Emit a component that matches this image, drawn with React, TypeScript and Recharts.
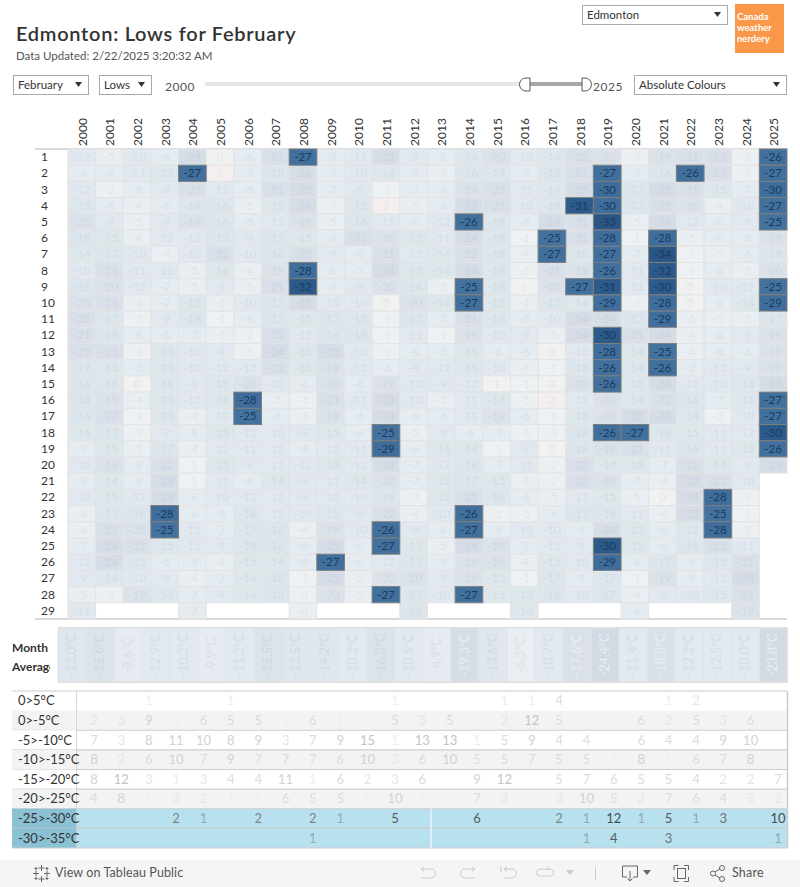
import React from "react";
import {
  ScatterChart,
  Scatter,
  XAxis,
  YAxis,
  ReferenceLine,
  ReferenceArea,
} from "recharts";

const years = [2000, 2001, 2002, 2003, 2004, 2005, 2006, 2007, 2008, 2009, 2010, 2011, 2012, 2013, 2014, 2015, 2016, 2017, 2018, 2019, 2020, 2021, 2022, 2023, 2024, 2025];
const days = [1, 2, 3, 4, 5, 6, 7, 8, 9, 10, 11, 12, 13, 14, 15, 16, 17, 18, 19, 20, 21, 22, 23, 24, 25, 26, 27, 28, 29];

// daily lows per year, day 1 first. -24.6 and -29.6 print as -25 and -30 but sit in the warmer bin
const lows2000 = [-12, -6, -12, -15, -20, -18, -14, -10, -16, -20, -22, -21, -22, -17, -16, -18, -16, -14, -7, -10, -8, -10, -4, -4, -7, -12, -9, -5, -11];
const lows2001 = [-5, -6, -2, -8, -9, -15, -17, -21, -20, -21, -17, -18, -21, -15, -18, -19, -22, -17, -15, -19, -14, -15, -17, -21, -24, -24, -14, -3];
const lows2002 = [-10, -11, -8, -4, -5, -4, -10, -11, -12, -4, -3, -6, -3, -7, 0, -4, -1, -3, -5, -8, -8, -12, -18, -20, -22, -15, -10, -19];
const lows2003 = [-6, -13, -9, -6, -9, -12, -4, -11, -7, -7, -9, -6, -13, -13, -14, -13, -13, -9, -17, -22, -23, -23, -28, -25, -15, -8, -9, -14];
const lows2004 = [-24, -27, -22, -16, -19, -12, -10, -5, -5, -15, -18, -7, -10, -10, -9, -11, -4, -8, -4, -1, -1, -6, -6, -11, -11, -8, -4, -7, -7];
const lows2005 = [0, 2, -11, -16, -16, -17, -22, -14, -9, -5, -1, -5, -9, -12, -13, -14, -10, -13, -12, -15, -11, -10, -8, -7, -9, -4, -7, -9];
const lows2006 = [-6, -7, -8, -5, -8, -9, -10, -4, -5, -10, -6, -2, -3, -12, -20, -28, -25, -12, -11, -9, -6, -12, -16, -17, -18, -15, -14, -14];
const lows2007 = [-21, -18, -21, -15, -12, -17, -16, -19, -21, -17, -17, -22, -24, -22, -10, -5, -6, -10, -12, -11, -14, -12, -12, -16, -16, -14, -18, -18];
const lows2008 = [-27, -24, -23, -24, -19, -15, -22, -28, -32, -24.6, -15, -12, -13, -13, -6, -3, -5, -9, -8, -12, -9, -9, -10, -4, -8, -8, -1, -3, -4];
const lows2009 = [-8, -7, -7, -3, -5, -8, -9, -6, -8, -10, -17, -16, -23, -19, -20, -21, -19, -15, -12, -13, -11, -10, -15, -19, -24.6, -27, -24.6, -20];
const lows2010 = [-11, -10, -9, -13, -16, -21, -8, -7, -9, -10, -13, -18, -10, -12, -8, -11, -6, -6, -11, -12, -14, -10, -9, -10, -6, -6, -5, -5];
const lows2011 = [-24.6, -14, -1, 2, -11, -20, -21, -24, -20, 0, -1, -1, -2, -6, -19, -23, -24, -25, -29, -23, -20, -18, -22, -26, -27, -12, -20, -27];
const lows2012 = [-9, -8, -7, -5, -8, -13, -12, -13, -16, -20, -17, -11, -6, -9, -10, -10, -6, -5, -6, -7, -7, -3, -4, -9, -13, -17, -20, -17, -18];
const lows2013 = [-8, -5, -6, -6, -12, -11, -14, -14, -5, -14, -7, -1, -8, -12, -9, -5, -6, -9, -14, -12, -13, -13, -10, -6, -5, -8, -9, -10];
const lows2014 = [-14, -16, -19, -23, -26, -24, -22, -24, -25, -27, -21, -19, -15, -15, -12, -11, -11, -6, -14, -16, -17, -21, -26, -27, -24, -19, -19, -27];
const lows2015 = [-20, -17, -22, -21, -18, -18, -18, -18, -18, -15, -16, -10, -6, -10, 1, -14, -19, -7, -1, -7, -15, -16, -2, -8, -19, -19, -13, -15];
const lows2016 = [-10, -8, -11, -10, -8, -1, -4, -3, 1, -4, -8, -9, -8, -4, -1, -3, -6, -3, -9, -11, -4, -6, -3, -10, -7, -4, -1, -13, -14];
const lows2017 = [-14, -18, -14, -18, -24, -25, -27, -21, -20, -17, -10, -5, 0, -1, 0, 2, -1, -3, 0, -2, -2, -5, -6, -10, -12, -15, -17, -16];
const lows2018 = [-22, -21, -24.6, -31, -21, -21, -18, -19, -27, -14, -24, -24, -10, -18, -20, -11, -15, -18, -18, -22, -22, -11, -17, -8, -9, -10, -8, -10];
const lows2019 = [-20, -27, -29.6, -29.6, -33, -28, -27, -26, -31, -29, -24, -30, -28, -26, -26, -20, -20, -26, -19, -14, -20, -15, -18, -24, -30, -29, -17, -17];
const lows2020 = [-2, -7, -17, -17, -5, -1, -7, -11, -11, -3, -17, -21, -14, -14, -15, -14, -24.6, -27, -21, -13, -7, -5, -11, -13, -15, -6, -1, -4, -6];
const lows2021 = [-19, -16, -23, -22, -24, -28, -34, -32, -30, -28, -29, -24, -25, -26, -24, -22, -23, -18, -11, -7, -4, 0, -4, -6, -6, -17, -19, -9];
const lows2022 = [-21, -26, -21, -20, -12, -5, -1, -1, 0, 0, -5, -4, -4, -7, -12, -16, -14, -15, -16, -21, -23, -24, -23, -13, -16, -8, -8, -10];
const lows2023 = [-21, -21, -15, -4, -6, -6, -5, -6, -10, -6, -5, -6, -8, -12, -10, -7, -3, -11, -11, -14, -22, -28, -25, -28, -22, -15, -12, -15];
const lows2024 = [-3, -3, -7, -10, -9, -8, -6, -5, -12, -14, -5, -9, -6, -9, -13, -15, -10, -12, -13, -9, -10, -3, -1, -3, -11, -21, -24, -21, -19];
const lows2025 = [-26, -27, -29.6, -27, -25, -19, -18, -20, -25, -29, -17, -19, -19, -20, -23, -27, -27, -30, -26, -23];

const lowsByYear = [lows2000, lows2001, lows2002, lows2003, lows2004, lows2005, lows2006, lows2007, lows2008, lows2009, lows2010, lows2011, lows2012, lows2013, lows2014, lows2015, lows2016, lows2017, lows2018, lows2019, lows2020, lows2021, lows2022, lows2023, lows2024, lows2025];

const monthAverages = [-13.0, -15.6, -8.6, -12.9, -10.2, -9.9, -11.2, -15.5, -13.5, -14.2, -10.2, -16.3, -10.5, -8.9, -19.3, -13.6, -6.3, -10.7, -17.6, -24.4, -11.4, -18.8, -12.2, -12.5, -10.0, -23.8];

const bandLabels = ["0>5°C", "0>-5°C", "-5>-10°C", "-10>-15°C", "-15>-20°C", "-20>-25°C", "-25>-30°C", "-30>-35°C"];
const countsBand0 = [null, null, 1, null, null, 1, null, null, null, null, null, 1, null, null, null, 1, 1, 4, null, null, null, 1, 2, null, null, null];
const countsBand1 = [2, 3, 9, 1, 6, 5, 5, 1, 6, 1, null, 5, 3, 5, null, 2, 12, 5, null, null, 6, 2, 5, 3, 6, null];
const countsBand2 = [7, 3, 8, 11, 10, 8, 9, 3, 7, 9, 15, 1, 13, 13, 1, 5, 9, 4, 4, null, 6, 4, 4, 9, 10, null];
const countsBand3 = [8, 2, 6, 10, 7, 9, 7, 7, 7, 6, 10, 3, 6, 10, 5, 5, 7, 5, 5, 1, 8, 1, 6, 7, 8, null];
const countsBand4 = [8, 12, 3, 1, 3, 4, 4, 11, 1, 6, 2, 3, 6, null, 9, 12, null, 5, 7, 6, 5, 5, 4, 2, 2, 7];
const countsBand5 = [4, 8, 1, 3, 2, 1, 1, 6, 5, 5, 1, 10, 1, null, 7, 3, null, 3, 10, 5, 3, 7, 6, 4, 3, 2];
const countsBand6 = [null, null, null, 2, 1, null, 2, null, 2, 1, null, 5, null, null, 6, null, null, 2, 1, 12, 1, 5, 1, 3, null, 10];
const countsBand7 = [null, null, null, null, null, null, null, null, 1, null, null, null, null, null, null, null, null, null, 1, 4, null, 3, null, null, null, 1];
const countsByBand = [countsBand0, countsBand1, countsBand2, countsBand3, countsBand4, countsBand5, countsBand6, countsBand7];

const FONT = "Lato, sans-serif";
const COL_W = 27.68;
const ROW_H = 16.2;
const AVG_W = 28.06;
const AVG_H = 54;

const lightStops: [number, string][] = [
  [2, "#f5eeee"], [0, "#f0f1f1"], [-1, "#edf1f3"], [-3, "#ecf0f2"], [-5, "#e9eef2"],
  [-8, "#e4ebf1"], [-12, "#e1e8ef"], [-15, "#dde7ec"], [-18, "#dce6ec"], [-20, "#dbe2ea"],
  [-22, "#d9e0e9"], [-25, "#d6dde7"],
];
const darkStops: [number, string][] = [
  [-25, "#44729f"], [-27, "#41709d"], [-29.9, "#3f6d9c"], [-32, "#2c5a8a"], [-40, "#2a5686"],
];
const pick = (stops: [number, string][], v: number) => {
  for (const s of stops) if (v >= s[0]) return s[1];
  return stops[stops.length - 1][1];
};

// cell text is the cell colour, a little darker
const darken = (hex: string, by: number) => {
  const n = parseInt(hex.slice(1), 16);
  const c = [n >> 16, (n >> 8) & 255, n & 255].map((v) => Math.max(0, v - by));
  return `rgb(${c[0]},${c[1]},${c[2]})`;
};

const lightCells: { year: number; day: number; low: number }[] = [];
const darkCells: { year: number; day: number; low: number }[] = [];
years.forEach((year, i) => {
  lowsByYear[i].forEach((low, d) => {
    (low <= -25 ? darkCells : lightCells).push({ year, day: days[d], low });
  });
});

const averageCells = years.map((year, i) => ({ year, y: 0.5, avg: monthAverages[i] }));

const countCells = years.flatMap((year, i) =>
  countsByBand.flatMap((counts, b) => (counts[i] == null ? [] : [{ year, y: b + 0.5, band: b, count: counts[i] }]))
);

const HeatCell = (props: any) => {
  const { cx, cy, payload } = props;
  const dark = payload.low <= -25;
  const fill = dark ? pick(darkStops, payload.low) : pick(lightStops, payload.low);
  return (
    <g>
      <rect
        x={cx - COL_W / 2}
        y={cy - ROW_H / 2}
        width={COL_W}
        height={ROW_H}
        fill={fill}
        stroke={dark ? "#7e7e7e" : "#e3e3e3"}
        strokeWidth={1}
      />
      <text
        x={cx}
        y={cy + 4}
        textAnchor="middle"
        fontSize={11.5}
        fontFamily={FONT}
        fill={dark ? "#1b3a5c" : darken(fill, 10)}
      >
        {Math.round(payload.low)}
      </text>
    </g>
  );
};

const avgFill = (v: number) => {
  if (v <= -22) return "#d2dae4";
  if (v <= -19) return "#d5dde6";
  if (v <= -17) return "#d9e0e9";
  if (v <= -15) return "#dae4ea";
  if (v <= -13) return "#dfe6ed";
  if (v <= -10) return "#e2e9f0";
  if (v <= -8) return "#e5ebf1";
  return "#e9eef2";
};

const AvgCell = (props: any) => {
  const { cx, cy, payload } = props;
  const fill = avgFill(payload.avg);
  return (
    <g>
      <rect x={cx - AVG_W / 2} y={cy - AVG_H / 2} width={AVG_W} height={AVG_H} fill={fill} stroke="#e3e3e3" strokeWidth={1} />
      <text
        transform={`translate(${cx + 4},${cy}) rotate(-90)`}
        textAnchor="middle"
        fontSize={12.5}
        fontFamily={FONT}
        fill={payload.avg <= -17 ? "#e9eef3" : darken(fill, 12)}
      >
        {payload.avg.toFixed(1)}°C
      </text>
    </g>
  );
};

const countColor = (count: number, band: number) => {
  if (band >= 6) {
    if (count >= 10) return "#454d52";
    if (count >= 4) return "#555d62";
    if (count >= 3) return "#6c7378";
    if (count >= 2) return "#7d8489";
    return "#94a9b3";
  }
  if (count >= 12) return "#c4c4c4";
  if (count >= 8) return "#d2d2d2";
  if (count >= 4) return "#dcdcdc";
  if (count >= 2) return "#e6e6e6";
  return "#eeeeee";
};

const CountCell = (props: any) => {
  const { cx, cy, payload } = props;
  return (
    <text x={cx} y={cy + 4.5} textAnchor="middle" fontSize={13} fontFamily={FONT} fill={countColor(payload.count, payload.band)}>
      {payload.count}
    </text>
  );
};

const YearTick = (props: any) => {
  const { x, payload } = props;
  return (
    <text transform={`translate(${x + 5},146) rotate(-90)`} fontSize={12} fontFamily={FONT} fill="#333">
      {payload.value}
    </text>
  );
};

const DayTick = (props: any) => {
  const { y, payload } = props;
  return (
    <text x={41} y={y + 4} fontSize={12} fontFamily={FONT} fill="#333">
      {payload.value}
    </text>
  );
};

const BandTick = (props: any) => {
  const { y, payload } = props;
  const band = Math.floor(payload.value);
  const h = 19.625;
  const fill = band >= 6 ? "#8bc1d4" : band % 2 === 1 ? "#f3f3f3" : "#ffffff";
  return (
    <g>
      <rect x={12} y={y - h / 2} width={64} height={h} fill={fill} />
      {band !== 0 && <line x1={12} x2={76} y1={y + h / 2} y2={y + h / 2} stroke="#cccccc" />}
      {band === 0 && <line x1={12} x2={76} y1={y - h / 2} y2={y - h / 2} stroke="#cccccc" />}
      <text x={18} y={y + 4.5} fontSize={13} fontFamily={FONT} fill="#333">
        {bandLabels[band]}
      </text>
    </g>
  );
};

const Dropdown = ({ left, top, width, label }: { left: number; top: number; width: number; label: string }) => (
  <div
    style={{
      position: "absolute",
      left,
      top,
      width,
      height: 18,
      border: "1px solid #a8a8a8",
      fontFamily: FONT,
      fontSize: 11.5,
      lineHeight: "18px",
      color: "#333",
      boxSizing: "content-box",
    }}
  >
    <span style={{ marginLeft: 4 }}>{label}</span>
    <svg style={{ position: "absolute", right: 5, top: 6 }} width={8} height={6}>
      <path d="M0 0 L7 0 L3.5 5 Z" fill="#333" />
    </svg>
  </div>
);

const Label = ({ left, top, size, color, weight, text, spacing }: any) => (
  <div
    style={{
      position: "absolute",
      left,
      top,
      fontFamily: FONT,
      fontSize: size,
      color,
      fontWeight: weight,
      letterSpacing: spacing,
      whiteSpace: "nowrap",
      lineHeight: 1.2,
    }}
  >
    {text}
  </div>
);

const Header = () => (
  <>
    <Label left={16} top={21} size={20} color="#333" weight={600} spacing={0.72} text="Edmonton: Lows for February" />
    <Label left={16} top={49} size={11.5} color="#555" text="Data Updated: 2/22/2025 3:20:32 AM" spacing={0} />
    <Dropdown left={13} top={75} width={74} label="February" />
    <Dropdown left={99} top={75} width={51} label="Lows" />
    <Label left={165} top={80} size={12} color="#555" text="2000" spacing={0.5} />
    <Label left={593} top={80} size={12} color="#555" text="2025" spacing={0.5} />
    <Dropdown left={582} top={5} width={144} label="Edmonton" />
    <Dropdown left={634} top={75} width={151} label="Absolute Colours" />
    <svg style={{ position: "absolute", left: 200, top: 75 }} width={400} height={20}>
      <rect x={5} y={7} width={317} height={4} fill="#e6e6e6" />
      <rect x={330} y={7} width={53} height={4} fill="#a8a8a8" />
      <path d="M330 3 L330 16 L326 16 A6.5 6.5 0 0 1 326 3 Z" fill="#fff" stroke="#555" />
      <path d="M382 3 L382 16 L385 16 A6.5 6.5 0 0 0 385 3 Z" fill="#fff" stroke="#555" />
    </svg>
    <div
      style={{
        position: "absolute",
        left: 735,
        top: 4,
        width: 49,
        height: 49,
        paddingLeft: 2,
        background: "#f89848",
        color: "#fff",
        fontFamily: FONT,
        fontSize: 9.5,
        fontWeight: 700,
        lineHeight: "11px",
        paddingTop: 7,
        boxSizing: "border-box",
      }}
    >
      Canada
      <br />
      weather
      <br />
      nerdery
    </div>
  </>
);

const Footer = () => (
  <>
    <div style={{ position: "absolute", left: 0, top: 860, width: 800, height: 27, background: "#f5f5f5" }} />
    <svg style={{ position: "absolute", left: 0, top: 860 }} width={800} height={27} fill="none">
      <g stroke="#666" strokeWidth={1}>
        <path d="M41.5 5v6M38.5 8h6M41.5 16v6M38.5 19h6M33 13.5h6M36 10.5v6M44 13.5h6M47 10.5v6" />
        <path d="M36 7v3M34.5 8.5h3M47 7v3M45.5 8.5h3M36 17v3M34.5 18.5h3M47 17v3M45.5 18.5h3" />
      </g>
      <g stroke="#cccccc" strokeWidth={1}>
        <path d="M421 8h10a4.5 4.5 0 0 1 0 9 h-10M421 8l3-2.5M421 8l3 2.5" transform="translate(0,1)" />
        <path d="M476 8h-10a4.5 4.5 0 0 0 0 9 h10M476 8l-3-2.5M476 8l-3 2.5" transform="translate(-1,1)" />
        <path d="M504 8h8a4.5 4.5 0 0 1 0 9 h-8M504 8l3-2.5M504 8l3 2.5M501 5v6" transform="translate(0,1)" />
        <path d="M540 9h10a3 3 0 0 1 0 7 h-10a3 3 0 0 1 0-7M547 6l3 3-3 1" />
        <path d="M595.5 7v13" />
      </g>
      <path d="M566 10h8l-4 5Z" fill="#cccccc" />
      <g stroke="#666" strokeWidth={1}>
        <path d="M627 17h-4.5v-11h15v11h-4.5M630 11v10M627.5 18.5l2.5 2.5 2.5-2.5" />
        <path d="M674 10V5.5h4.5M684 5.5h4.5V10M688.5 17v4.5H684M678.5 21.5H674V17" />
        <rect x={677.5} y={8.5} width={8} height={10} />
        <circle cx={713} cy={13.5} r={2.5} />
        <circle cx={722} cy={8} r={2.5} />
        <circle cx={722} cy={19} r={2.5} />
        <path d="M715 12l5-3M715 15l5 3" />
      </g>
      <path d="M643 10h8l-4 5Z" fill="#666" />
    </svg>
    <Label left={55} top={865} size={12.5} color="#555" text="View on Tableau Public" spacing={0.1} />
    <Label left={732} top={865} size={12.5} color="#555" text="Share" spacing={0.2} />
  </>
);

const HeatMap = () => (
  <div style={{ position: "absolute", left: 0, top: 0 }}>
    <ScatterChart width={800} height={640} margin={{ top: 148, left: 34, right: 13, bottom: 21 }} style={{ overflow: "visible" }}>
      <XAxis
        type="number"
        dataKey="year"
        orientation="top"
        domain={[1998.31, 2025.5]}
        ticks={years}
        interval={0}
        height={1}
        tick={YearTick}
        axisLine={false}
        tickLine={false}
      />
      <YAxis
        type="number"
        dataKey="day"
        reversed
        domain={[0.5, 29.5]}
        ticks={days}
        interval={0}
        width={1}
        tick={DayTick}
        axisLine={false}
        tickLine={false}
      />
      <Scatter data={lightCells} shape={HeatCell} isAnimationActive={false} />
      <Scatter data={darkCells} shape={HeatCell} isAnimationActive={false} />
      <ReferenceLine y={0.5} stroke="#cccccc" strokeWidth={1.5} />
      <ReferenceLine y={29.5} stroke="#cccccc" strokeWidth={1.5} />
    </ScatterChart>
  </div>
);

const AverageStrip = () => (
  <div style={{ position: "absolute", left: 0, top: 620 }}>
    <ScatterChart width={800} height={70} margin={{ top: 8, left: 58, right: 12.5, bottom: 8 }}>
      <XAxis type="number" dataKey="year" domain={[1999.5, 2025.5]} hide />
      <YAxis type="number" dataKey="y" domain={[0, 1]} hide width={0} />
      <Scatter data={averageCells} shape={AvgCell} isAnimationActive={false} />
      <ReferenceLine y={0} stroke="#cccccc" strokeWidth={1.5} />
      <ReferenceLine y={1} stroke="#cccccc" strokeWidth={1.5} />
    </ScatterChart>
    <div
      style={{
        position: "absolute",
        left: 12,
        top: 18,
        width: 38,
        overflow: "hidden",
        whiteSpace: "nowrap",
        fontFamily: FONT,
        fontSize: 12,
        fontWeight: 700,
        color: "#333",
        lineHeight: "19px",
      }}
    >
      Month
      <br />
      Average
    </div>
  </div>
);

const bandRows = bandLabels.map((_, i) => i);
const tableDomain = [1999.342, 2025.347];

const CountTable = () => (
  <div style={{ position: "absolute", left: 0, top: 680 }}>
    <ScatterChart width={800} height={180} margin={{ top: 11, left: 75, right: 12.5, bottom: 12 }}>
      <XAxis type="number" dataKey="year" domain={tableDomain} hide />
      <YAxis
        type="number"
        dataKey="y"
        reversed
        domain={[0, 8]}
        ticks={bandRows.map((b) => b + 0.5)}
        interval={0}
        width={1}
        tick={BandTick}
        axisLine={false}
        tickLine={false}
      />
      {bandRows.map((b) => (
        <ReferenceArea
          key={b}
          x1={tableDomain[0]}
          x2={tableDomain[1]}
          y1={b}
          y2={b + 1}
          fill={b >= 6 ? "#b8e1f0" : b % 2 === 1 ? "#f3f3f3" : "#ffffff"}
          fillOpacity={1}
          stroke="none"
        />
      ))}
      {[0, 2, 3, 4, 5, 6, 7, 8].map((b) => (
        <ReferenceLine key={b} y={b} stroke="#cccccc" strokeWidth={1.2} />
      ))}
      <ReferenceLine x={tableDomain[0]} stroke="#cccccc" strokeWidth={1.5} />
      <ReferenceLine x={tableDomain[1]} stroke="#cccccc" strokeWidth={1.5} />
      <ReferenceLine segment={[{ x: 2012.32, y: 6 }, { x: 2012.32, y: 8 }]} stroke="#ffffff" strokeWidth={1} />
      <Scatter data={countCells} shape={CountCell} isAnimationActive={false} />
    </ScatterChart>
  </div>
);

export default function App() {
  return (
    <div style={{ position: "absolute", left: 0, top: 0, width: 800, height: 887, background: "#fff", overflow: "hidden" }}>
      <Header />
      <HeatMap />
      <AverageStrip />
      <CountTable />
      <Footer />
    </div>
  );
}
